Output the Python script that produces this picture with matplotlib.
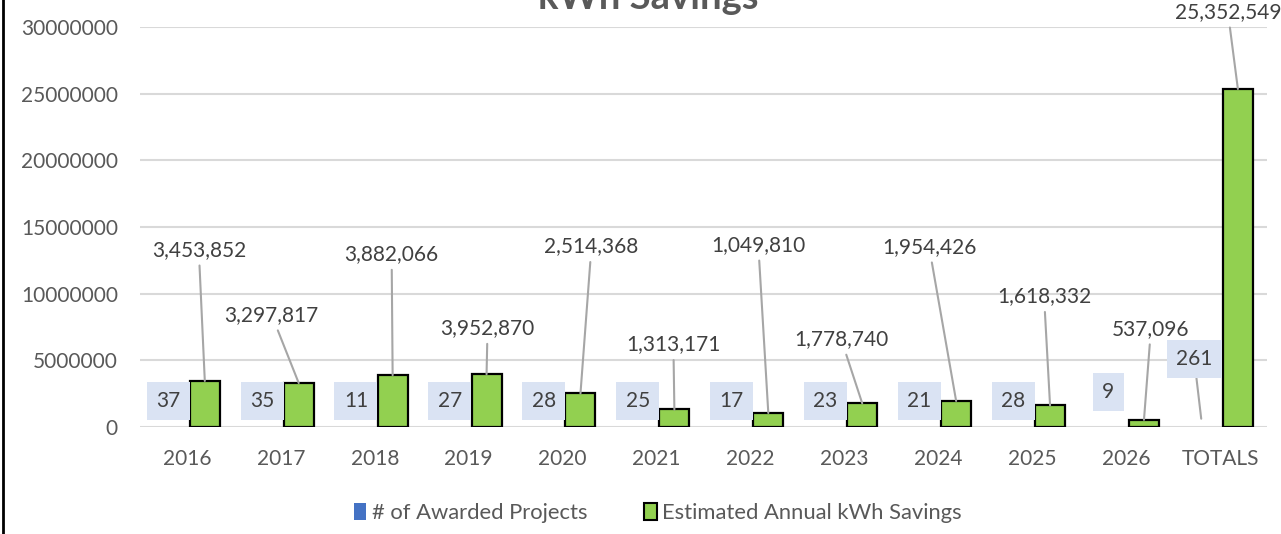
import numpy as np
import matplotlib.pyplot as plt
from matplotlib.lines import Line2D
from matplotlib.patches import Patch

# -- data --
categories = ['2016', '2017', '2018', '2019', '2020', '2021', '2022', '2023',
              '2024', '2025', '2026', 'TOTALS']
projects = [37, 35, 11, 27, 28, 25, 17, 23, 21, 28, 9, 261]
kwh_savings = [3453852, 3297817, 3882066, 3952870, 2514368, 1313171, 1049810,
               1778740, 1954426, 1618332, 537096, 25352549]

# label offsets (pixels) from bar top, as placed in the original chart
kwh_label_off = [(-6, 131), (-27, 68), (-1, 121), (1, 46), (11, 147), (-1, 65),
                 (-10, 168), (-21, 64), (-27, 154), (-6, 109), (7, 91), (-10, 77)]
proj_label_off = [(-1, 26)] * 10 + [(0, 35), (-8, 68)]

text_col = '#595959'
plt.rcParams['font.family'] = ['Lato', 'DejaVu Sans']

fig = plt.figure(figsize=(12.81, 5.34), dpi=100)
ax = fig.add_axes([140 / 1281, 1 - 427 / 534, 1127 / 1281, 400 / 534])

x = np.arange(len(categories))
w = 0.32
off = 0.19
ax.bar(x - off, projects, w, color='#4472C4', zorder=3)
ax.bar(x + off, kwh_savings, w, color='#92D050', edgecolor='black', linewidth=1.6, zorder=3)

ax.set_xlim(-0.5, len(categories) - 0.5)
ax.set_ylim(0, 30000000)
ax.set_yticks(np.arange(0, 30000001, 5000000))
ax.set_yticklabels([str(v) for v in range(0, 30000001, 5000000)])
ax.set_xticks(x)
ax.set_xticklabels(categories)
ax.tick_params(axis='both', length=0, labelsize=15, colors=text_col)
ax.tick_params(axis='y', pad=16)
ax.tick_params(axis='x', pad=16)
ax.grid(axis='y', color='#d9d9d9', linewidth=1.5, zorder=0)
for s in ax.spines.values():
    s.set_visible(False)

# green bar labels with leader lines
for i, v in enumerate(kwh_savings):
    dx, dy = kwh_label_off[i]
    ax.annotate(f'{v:,}', xy=(x[i] + off, v), xytext=(dx, dy), textcoords='offset pixels',
                ha='center', va='center', fontsize=15, color='#404040', zorder=5,
                arrowprops=dict(arrowstyle='-', color='#a6a6a6', lw=1.5,
                                shrinkA=2, shrinkB=0))

# project count labels in light blue boxes
for i, v in enumerate(projects):
    dx, dy = proj_label_off[i]
    arrow = None
    if i == len(projects) - 1:
        arrow = dict(arrowstyle='-', color='#a6a6a6', lw=1.5, shrinkA=0, shrinkB=6)
    ax.annotate(f'{v}', xy=(x[i] - off, v), xytext=(dx, dy), textcoords='offset pixels',
                ha='center', va='center', fontsize=15, color='#404040', zorder=5,
                bbox=dict(boxstyle='square,pad=0.45', fc='#dae3f3', ec='none'),
                arrowprops=arrow)

# title sits partly above the top edge, as in the original
fig.text(648 / 1281, 1 - 9 / 534, 'kWh Savings', ha='center', va='baseline',
         fontsize=27.5, fontweight='bold', color=text_col)

handles = [Patch(facecolor='#4472C4', edgecolor='none'),
           Patch(facecolor='#92D050', edgecolor='black', linewidth=1.5)]
fig.legend(handles, ['# of Awarded Projects', 'Estimated Annual kWh Savings'],
           loc='center', bbox_to_anchor=(658 / 1281, 1 - 513 / 534), ncol=2,
           frameon=False, fontsize=15.8, labelcolor=text_col, handlelength=0.55,
           handleheight=0.8, handletextpad=0.25, columnspacing=2.6)

fig.add_artist(Line2D([3 / 1281, 3 / 1281], [0, 1], transform=fig.transFigure,
                      color='black', linewidth=2))

fig.savefig('out.png', dpi=100)
